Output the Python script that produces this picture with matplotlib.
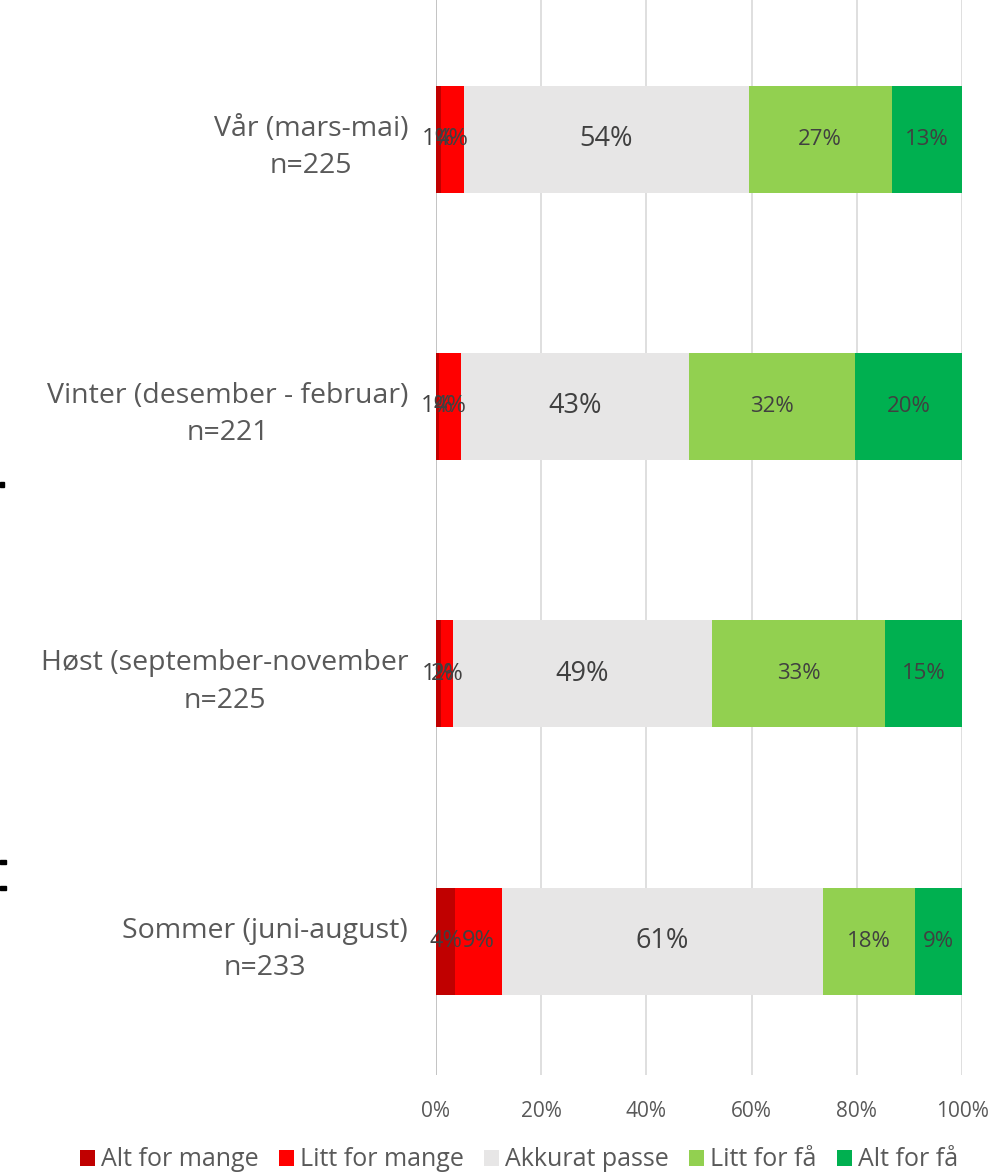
import matplotlib
matplotlib.use("Agg")
import matplotlib.pyplot as plt
from matplotlib.patches import Rectangle

plt.rcParams['font.family'] = ['Open Sans', 'DejaVu Sans']

categories = ["Vår (mars-mai)\nn=225",
              "Vinter (desember - februar)\nn=221",
              "Høst (september-november\nn=225",
              "Sommer (juni-august)\nn=233"]
series_names = ["Alt for mange", "Litt for mange", "Akkurat passe", "Litt for få", "Alt for få"]
alt_for_mange = [0.9, 0.6, 1.0, 3.6]
litt_for_mange = [4.4, 4.1, 2.2, 8.9]
akkurat_passe = [54.2, 43.4, 49.3, 61.0]
litt_for_faa = [27.1, 31.6, 32.9, 17.6]
alt_for_faa = [13.4, 20.3, 14.6, 8.9]
xticks = [0, 20, 40, 60, 80, 100]
xtick_labels = ["0%", "20%", "40%", "60%", "80%", "100%"]

series = [alt_for_mange, litt_for_mange, akkurat_passe, litt_for_faa, alt_for_faa]
colors = ["#C00000", "#FF0000", "#E7E6E6", "#92D050", "#00B050"]
label_sizes = [17, 17, 19.5, 16, 16]
text_color = "#595959"
label_color = "#404040"

W, H = 1004, 1174
fig = plt.figure(figsize=(W / 100, H / 100), dpi=100)
# axes: x 436..962, y 0..1075 (pixels from top)
ax = fig.add_axes([436 / W, 1 - 1075 / H, (962 - 436) / W, 1075 / H])

ypos = list(range(len(categories)))
left = [0] * len(categories)
for vals, name, col, fs in zip(series, series_names, colors, label_sizes):
    bars = ax.barh(ypos, vals, left=left, height=0.4, color=col, label=name, zorder=2)
    for i, (b, v) in enumerate(zip(bars, vals)):
        ax.text(left[i] + v / 2, ypos[i], f"{v:.0f}%", ha="center", va="center",
                fontsize=fs, color=label_color, zorder=3)
    left = [l + v for l, v in zip(left, vals)]

ax.set_xlim(0, 100)
ax.set_ylim(3.5, -0.52)
ax.set_yticks(ypos)
ax.set_yticklabels(categories, fontsize=20.5, color=text_color, ha="right",
                   multialignment="center", linespacing=1.45)
ax.tick_params(axis="y", length=0, pad=20)
ax.set_xticks(xticks)
ax.set_xticklabels(xtick_labels, fontsize=15, color=text_color)
ax.tick_params(axis="x", length=0, pad=19)
ax.grid(axis="x", color="#D9D9D9", linewidth=1.2, zorder=0)
ax.set_axisbelow(True)
for s in ax.spines.values():
    s.set_visible(False)
ax.axvline(0, color="#BFBFBF", linewidth=1.2, zorder=1)

leg = fig.legend(loc="center", bbox_to_anchor=(0.517, 1 - 1160 / H), ncol=5, frameon=False,
                 fontsize=18, handlelength=0.6, handleheight=0.6, handletextpad=0.25,
                 columnspacing=0.8, labelcolor=text_color)

# small black marks at the left edge
for (x0, y0, w, h) in [(0, 482, 4, 5), (0, 860, 6, 4), (0, 886, 6, 4)]:
    fig.patches.append(Rectangle((x0 / W, 1 - (y0 + h) / H), w / W, h / H,
                                 transform=fig.transFigure, color="black"))

fig.savefig("out.png", dpi=100)
